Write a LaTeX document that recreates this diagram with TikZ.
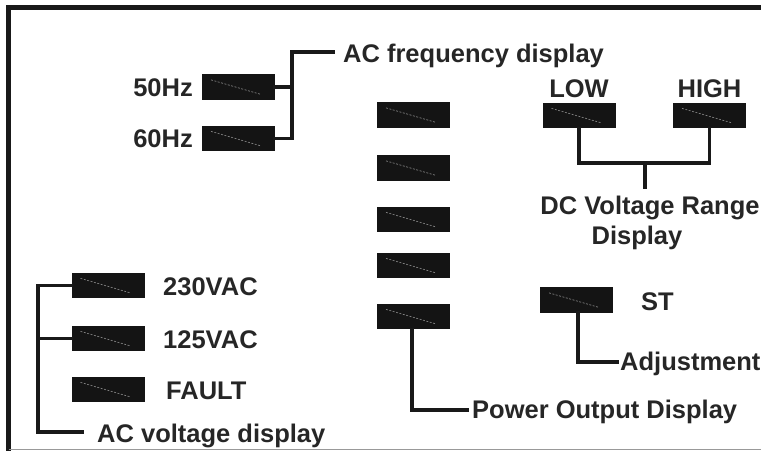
\documentclass[tikz,border=0pt]{standalone}
\usepackage{fontspec}
\setmainfont{Liberation Sans}
\usetikzlibrary{positioning, calc}

\begin{document}
\begin{tikzpicture}[
    x=1pt, y=-1pt,
    % LCD segment: black block with a faint dashed stroke inside
    lcd/.style={
        rectangle,
        fill=black!92,
        minimum width=73pt,
        minimum height=25.5pt,
        inner sep=0pt,
        path picture={
            \draw[black!50, dash pattern=on 2pt off 1.5pt, line width=0.7pt]
            ($(path picture bounding box.north west)!0.22!(path picture bounding box.south west)+(9pt,0)$)
            -- ($(path picture bounding box.north west)!0.78!(path picture bounding box.south west)+(58pt,0)$);
        }
    },
    lbl/.style={inner sep=0pt, text height=18pt, text depth=0pt,
        font=\fontsize{25.5}{28}\selectfont\bfseries, text=black!85},
    wire/.style={line width=3.6pt, draw=black!90, line cap=rect}
]

    \useasboundingbox (0,0) rectangle (761,451);

    % --- MARCO ---
    \draw[line width=5.5pt, black!90] (761,7.3) -- (8.5,7.3) -- (8.5,451);
    \draw[line width=1.2pt, black!40] (8.5,449.6) -- (761,449.6);

    % --- FRECUENCIA AC ---
    \node[lcd] (f50) at (238.5,87) {};
    \node[lcd] (f60) at (238.5,138.5) {};
    \node[lbl, anchor=east] (t50) at (193,87) {50Hz};
    \node[lbl, anchor=east] (t60) at (193,138.5) {60Hz};
    \node[lbl, anchor=west] (acfreq) at (343,53) {AC frequency display};

    \coordinate (fj) at (292,52);
    \draw[wire] (f60.east) -| (fj) -- ([xshift=-10pt]acfreq.west |- fj);
    \draw[wire] (f50.east) -- (f50.east -| fj);

    % --- SALIDA DE POTENCIA ---
    \node[lcd] (p1) at (413.5,115) {};
    \node[lcd] (p2) at (413.5,168) {};
    \node[lcd] (p3) at (413.5,219.5) {};
    \node[lcd] (p4) at (413.5,265.5) {};
    \node[lcd] (p5) at (413.5,316.5) {};
    \node[lbl, anchor=west] (pout) at (472,409) {Power Output Display};

    \draw[wire] ([xshift=-1.5pt]p5.south) |- ([xshift=-5pt, yshift=-1pt]pout.west);

    % --- RANGO DC ---
    \node[lcd] (low) at (579,115.5) {};
    \node[lcd] (high) at (709.5,115.5) {};
    \node[lbl, above=5pt of low] (tlow) {LOW};
    \node[lbl, above=5pt of high] (thigh) {HIGH};
    \node[lbl, anchor=north] (dcrange) at (650,196) {DC Voltage Range};
    \node[lbl, anchor=north] (dcdisp) at (637,226) {Display};

    \coordinate (dcj) at (645,163);
    \draw[wire] (low.south) |- (dcj) -| (high.south);
    \draw[wire] (dcj) -- ([yshift=9pt]dcrange.north -| dcj);

    % --- AJUSTE ST ---
    \node[lcd] (st) at (576.5,300) {};
    \node[lbl, anchor=west] (tst) at (641,301) {ST};
    \node[lbl, anchor=west] (adj) at (620,361) {Adjustment};

    \draw[wire] ([xshift=1.5pt]st.south) |- ([xshift=-3pt, yshift=-1pt]adj.west);

    % --- TENSION AC ---
    \node[lcd] (v230) at (108,285.5) {};
    \node[lcd] (v125) at (108,338.5) {};
    \node[lcd] (fault) at (108,389.5) {};
    \node[lbl, anchor=west] (t230) at (163,286) {230VAC};
    \node[lbl, anchor=west] (t125) at (163,339) {125VAC};
    \node[lbl, anchor=west] (tfault) at (166,390) {FAULT};
    \node[lbl, anchor=west] (acv) at (97,433) {AC voltage display};

    \coordinate (vj) at (38,432);
    \draw[wire] (v230.west) -| (vj) -- ([xshift=-15pt]acv.west |- vj);
    \draw[wire] (v125.west) -- (v125.west -| vj);

\end{tikzpicture}
\end{document}
